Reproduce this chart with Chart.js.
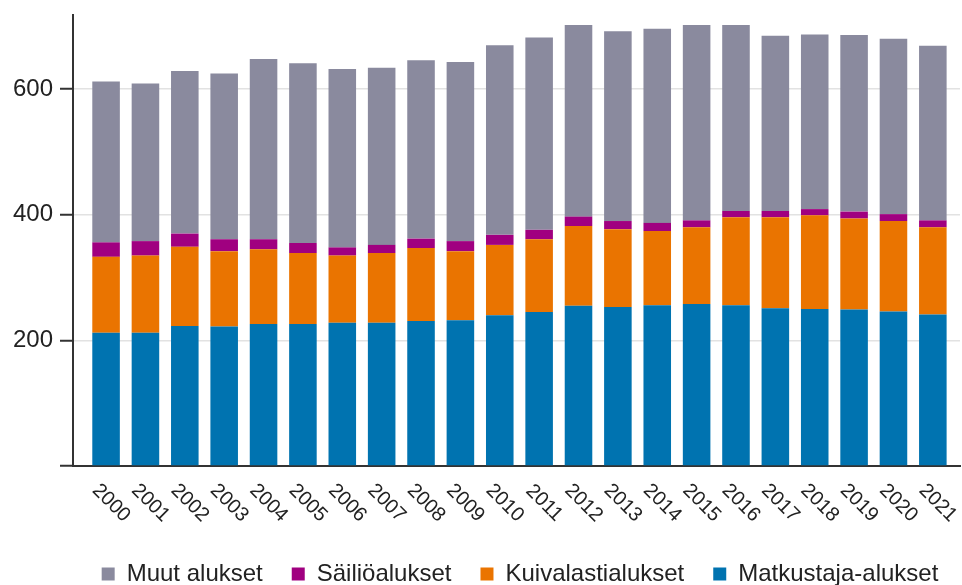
<!DOCTYPE html>
<html>
<head>
<meta charset="utf-8">
<script src="https://cdn.jsdelivr.net/npm/chart.js@4"></script>
<style>
  html, body { margin: 0; padding: 0; background: #fff; }
  #wrap { width: 962px; height: 585px; position: relative; }
</style>
</head>
<body>
<div id="wrap"><canvas id="chart"></canvas></div>
<script>
const years = [2000, 2001, 2002, 2003, 2004, 2005, 2006, 2007, 2008, 2009, 2010,
               2011, 2012, 2013, 2014, 2015, 2016, 2017, 2018, 2019, 2020, 2021];

const matkustaja = [212, 212, 223, 222, 226, 226, 228, 228, 231, 232, 240,
                    245, 255, 253, 256, 258, 256, 251, 250, 249, 246, 241];
const kuivalasti = [121, 123, 126, 120, 119, 113, 107, 111, 116, 110, 112,
                    116, 127, 124, 118, 122, 140, 145, 149, 145, 144, 139];
const sailio = [23, 23, 21, 19, 16, 16, 13, 13, 15, 16, 16,
                15, 15, 13, 13, 11, 10, 10, 10, 11, 11, 11];
const muut = [256, 251, 259, 264, 287, 286, 284, 282, 284, 285, 302,
              306, 305, 302, 309, 311, 296, 279, 278, 281, 279, 278];

const yTicks = [0, 200, 400, 600];

Chart.defaults.font.family = '"Liberation Sans", Arial, sans-serif';
Chart.defaults.color = '#222';

function points(values) {
    return years.map((y, i) => ({ x: y, y: values[i] }));
}

// year labels are drawn turned clockwise, which chart.js ticks can't do
const yearLabels = {
    id: 'yearLabels',
    afterDraw(chart) {
        const sx = chart.scales.x;
        const ctx = chart.ctx;
        ctx.save();
        ctx.font = '20px "Liberation Sans", Arial, sans-serif';
        ctx.fillStyle = '#222';
        ctx.textAlign = 'center';
        ctx.textBaseline = 'middle';
        years.forEach(y => {
            ctx.save();
            ctx.translate(sx.getPixelForValue(y) + 5, sx.top + 37);
            ctx.rotate(Math.PI / 4);
            ctx.fillText(String(y), 0, 0);
            ctx.restore();
        });
        ctx.restore();
    }
};

// centre the legend a bit right of the canvas middle
const legendShift = {
    id: 'legendShift',
    afterLayout(chart) {
        const lg = chart.legend;
        if (!lg) return;
        const dx = 520 - (lg.left + lg.right) / 2;
        lg.left += dx;
        lg.right += dx;
    }
};

new Chart(document.getElementById('chart').getContext('2d'), {
    type: 'bar',
    data: {
        datasets: [
            { label: 'Matkustaja-alukset', data: points(matkustaja), backgroundColor: '#0073b0' },
            { label: 'Kuivalastialukset', data: points(kuivalasti), backgroundColor: '#ea7400' },
            { label: 'Säiliöalukset', data: points(sailio), backgroundColor: '#a00080' },
            { label: 'Muut alukset', data: points(muut), backgroundColor: '#8a8a9e' }
        ]
    },
    options: {
        responsive: true,
        maintainAspectRatio: false,
        animation: false,
        categoryPercentage: 1,
        barPercentage: 0.7,
        layout: {
            padding: { top: 15, right: 2, bottom: -11, left: 0 }
        },
        scales: {
            x: {
                type: 'linear',
                stacked: true,
                offset: false,
                min: 1999.16,
                max: 2021.69,
                afterBuildTicks: s => { s.ticks = years.map(v => ({ value: v })); },
                afterFit: s => { s.height = 67; s.paddingLeft = 0; s.paddingRight = 0; },
                ticks: { display: false },
                grid: { display: false },
                border: { display: true, color: '#333', width: 2 }
            },
            y: {
                stacked: true,
                min: 0,
                max: 718,
                afterBuildTicks: s => { s.ticks = yTicks.map(v => ({ value: v })); },
                afterFit: s => { s.width = 73; s.paddingTop = 0; s.paddingBottom = 0; },
                ticks: {
                    font: { size: 24 },
                    color: '#222',
                    padding: 7,
                    callback: v => (v === 0 ? '' : v)
                },
                grid: {
                    color: '#e2e2e2',
                    lineWidth: 1.5,
                    tickLength: 13,
                    tickColor: '#333',
                    tickWidth: 2
                },
                border: { display: true, color: '#333', width: 2 }
            }
        },
        plugins: {
            tooltip: { enabled: false },
            legend: {
                display: true,
                position: 'bottom',
                reverse: true,
                labels: {
                    boxWidth: 13,
                    boxHeight: 13,
                    padding: 29,
                    color: '#222',
                    font: { size: 24 }
                }
            }
        }
    },
    plugins: [yearLabels, legendShift]
});
</script>
</body>
</html>
